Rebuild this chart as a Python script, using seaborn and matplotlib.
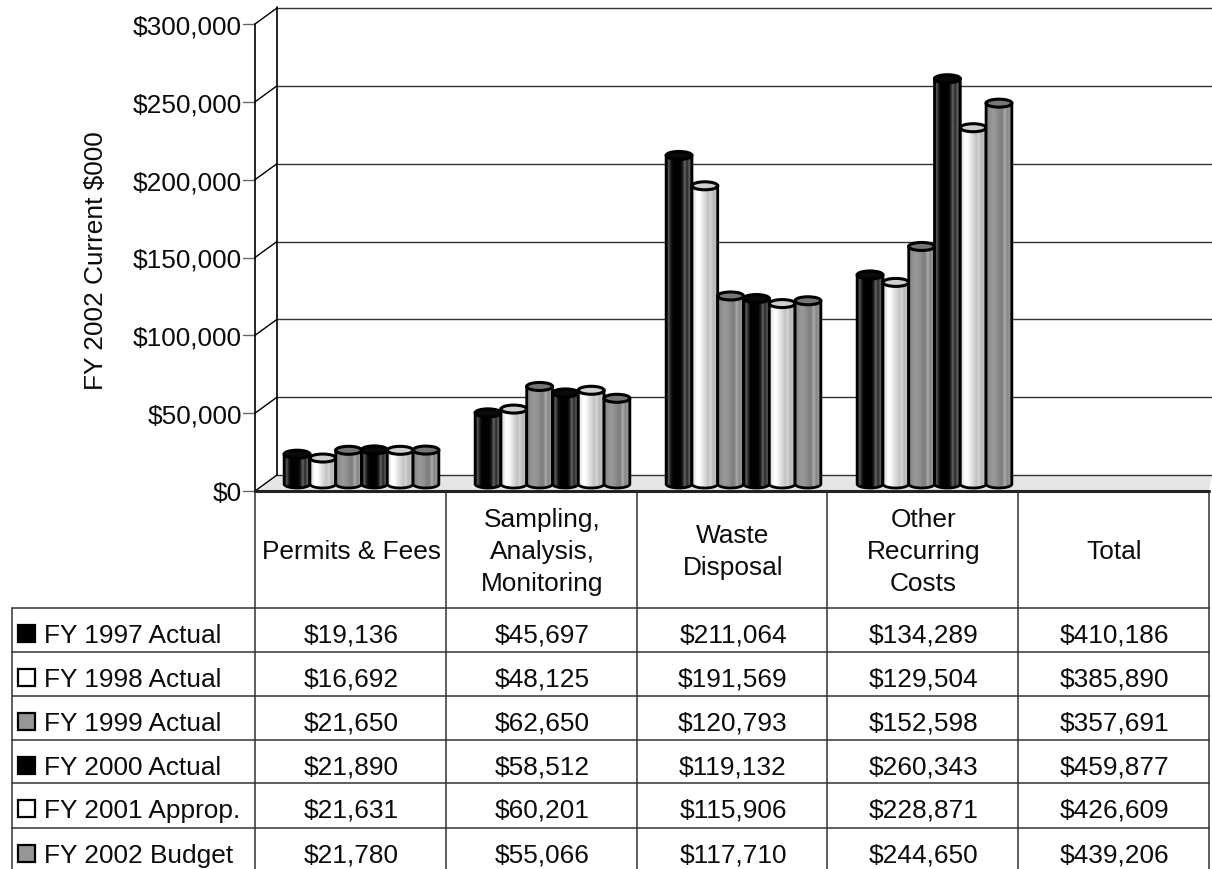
import numpy as np
import pandas as pd
import seaborn as sns
import matplotlib.pyplot as plt
from matplotlib.patches import Ellipse, Polygon, Rectangle

categories = ["Permits & Fees", "Sampling,\nAnalysis,\nMonitoring", "Waste\nDisposal",
              "Other\nRecurring\nCosts", "Total"]
series_names = ["FY 1997 Actual", "FY 1998 Actual", "FY 1999 Actual",
                "FY 2000 Actual", "FY 2001 Approp.", "FY 2002 Budget"]
fy1997 = [19136, 45697, 211064, 134289, 410186]
fy1998 = [16692, 48125, 191569, 129504, 385890]
fy1999 = [21650, 62650, 120793, 152598, 357691]
fy2000 = [21890, 58512, 119132, 260343, 459877]
fy2001 = [21631, 60201, 115906, 228871, 426609]
fy2002 = [21780, 55066, 117710, 244650, 439206]
all_series = [fy1997, fy1998, fy1999, fy2000, fy2001, fy2002]
y_ticks = [0, 50000, 100000, 150000, 200000, 250000, 300000]

sns.set_theme(style="white")
plt.rcParams['font.family'] = ['Liberation Sans', 'DejaVu Sans']
FS = 18.9
INK = "#0c0c0c"

# long table for the chart, Total is only shown in the table below
rows = []
for name, vals in zip(series_names, all_series):
    for cat, v in zip(categories[:4], vals[:4]):
        rows.append({"cat": cat, "series": name, "value": v})
df = pd.DataFrame(rows)

W, H = 1212, 870
fig = plt.figure(figsize=(W / 100, H / 100), dpi=100, facecolor="white")

# overlay in pixel coordinates for the walls and the table
bg = fig.add_axes([0, 0, 1, 1], zorder=1)
bg.set_xlim(0, W)
bg.set_ylim(H, 0)
bg.axis("off")

# chart axes, shifted half the floor depth, with some room under zero for the round bar bottoms
x0, base, top, below = 266, 485, 18, 16
per_px = 300000 / (base - top)
ax = fig.add_axes([x0 / W, (H - base - below) / H, (W - x0) / W, (base + below - top) / H], zorder=2)
ax.patch.set_alpha(0)
sns.barplot(data=df, x="cat", y="value", hue="series", order=categories, hue_order=series_names,
            palette=["black", "white", "gray"] * 2, width=0.81, gap=0, legend=False, ax=ax)
xlim = (-0.5, -0.5 + (W - x0) / 191)
ylim = (-below * per_px, 300000)
ax.axis("off")

# wall, floor, gridlines
left, back, right = 255, 277, 1209
y_px = lambda v: 492 - v * 467 / 300000
bg.add_patch(Polygon([(left, 492), (back, 476), (right + 3, 476), (right, 492)], fc="#e6e6e6", ec="none"))
for v in y_ticks:
    yy = y_px(v)
    bg.plot([left - 12, left], [yy, yy], color="#666666", lw=1)
    bg.plot([left, back], [yy, yy - 16], color="black", lw=1)
    bg.plot([back, W], [yy - 16, yy - 16], color="#333333", lw=1)
    bg.text(left - 13, yy, f"${v:,}", ha="right", va="center_baseline", fontsize=FS, color=INK)
bg.plot([back, back], [8, 476], color="black", lw=1.2)
bg.plot([left, left], [25, 492], color="black", lw=1.2)
bg.text(96, 261, "FY 2002 Current $000", rotation=90, ha="center", va="center", fontsize=FS, color=INK)

# cylinders: shaded fill clipped to each bar, ellipse caps
shades = {
    "black": [.1, .35, .1, 0, 0, 0, 0, .1, .4, .15, .4, .1],
    "white": [.8, .9, 1, 1, .94, .88, .82, .76, .84, .72, .76, .68],
    "gray": [.48, .55, .58, .6, .58, .55, .5, .5, .68, .52, .6, .45],
}
cap_fill = {"black": "#0a0a0a", "white": "#cfcfcf", "gray": "#767676"}
eh = 4 * per_px  # half height of a cap, in data units
bars = sorted([p for p in ax.patches if p.get_height() > 0], key=lambda p: p.get_x())
keys = ["black", "white", "gray"]
for k, p in enumerate(bars):
    key = keys[k % 3]
    xa, w, h = p.get_x(), p.get_width(), p.get_height()
    grad = np.interp(np.linspace(0, 1, 60), np.linspace(0, 1, 12), shades[key]).reshape(1, -1)
    z = 3 + k * 0.01
    p.set_facecolor("none")
    p.set_edgecolor("none")
    im = ax.imshow(grad, extent=(xa, xa + w, -eh * 1.2, h), aspect="auto", cmap="gray", vmin=0, vmax=1,
                   zorder=z, interpolation="bilinear")
    # outline of the cylinder body
    t = np.linspace(np.pi, 2 * np.pi, 30)
    bx = xa + w / 2 + w / 2 * np.cos(t)
    by = eh * np.sin(t)
    body = np.vstack([[xa, h], np.column_stack([bx, by]), [xa + w, h]])
    poly = Polygon(body, closed=True, fc="none", ec="black", lw=2, zorder=z + 0.001, clip_on=False)
    ax.add_patch(poly)
    im.set_clip_path(poly)
    ax.add_patch(Ellipse((xa + w / 2, h), w, 2 * eh, fc=cap_fill[key], ec="black", lw=2.2,
                         zorder=z + 0.002, clip_on=False))
ax.set_xlim(xlim)
ax.set_ylim(ylim)

# table
col_x = [255, 446, 637, 827, 1018, 1209]
row_y = [609, 653, 697, 741, 784, 829]
line = "#333333"
bg.plot([left, right], [492, 492], color="#222222", lw=2.2, zorder=5)
for cx in col_x:
    bg.plot([cx, cx], [492, 870], color=line, lw=1.1)
bg.plot([12, 12], [row_y[0], 870], color=line, lw=1.1)
for ry in row_y:
    bg.plot([12, right], [ry, ry], color=line, lw=1.1)
for c, cat in enumerate(categories):
    bg.text((col_x[c] + col_x[c + 1]) / 2 + 1, 552, cat, ha="center", va="center", fontsize=FS,
            linespacing=1.42, color=INK)
sw_col = ["black", "white", "#969696"] * 2
for r, name in enumerate(series_names):
    ty = row_y[r] + 27
    bg.add_patch(Rectangle((18, ty - 10), 17, 17, fc=sw_col[r], ec="black", lw=1.6))
    bg.text(44, ty, name, ha="left", va="center", fontsize=FS, color=INK)
    for c in range(5):
        bg.text((col_x[c] + col_x[c + 1]) / 2 + 1, ty, f"${all_series[r][c]:,}", ha="center",
                va="center", fontsize=FS, color=INK)

fig.savefig("out.png", dpi=100)
